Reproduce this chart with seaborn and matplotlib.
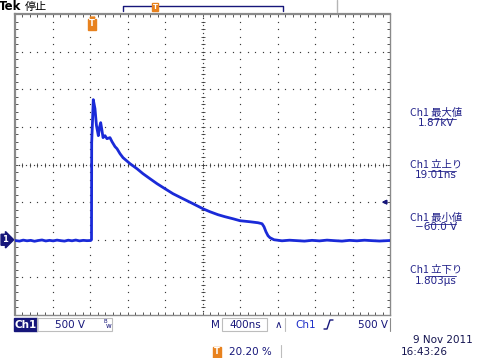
"""Tek oscilloscope screen capture: Ch1 pulse, 500 V/div, 400 ns/div."""

import matplotlib.pyplot as plt
import pandas as pd
import seaborn as sns
from matplotlib.lines import Line2D
from matplotlib.patches import Rectangle

sns.set_theme(style="white")
plt.rcParams["font.family"] = ["DejaVu Sans", "Noto Sans CJK JP"]
JP = ["Noto Sans CJK JP", "DejaVu Sans"]

# ── Data ──────────────────────────────────────────────────────────────────────

# time in µs relative to trigger, Ch1 voltage in V
t_us = [
    -0.808, -0.76, -0.72, -0.68, -0.64, -0.60, -0.56, -0.52, -0.48, -0.44,
    -0.40, -0.36, -0.32, -0.28, -0.24, -0.20, -0.16, -0.12, -0.08, -0.04, 0.0,
    0.008, 0.010, 0.019, 0.027, 0.035, 0.045, 0.061, 0.081, 0.093, 0.106,
    0.120, 0.131, 0.152, 0.173, 0.205, 0.227, 0.259, 0.280, 0.312, 0.344,
    0.419, 0.493, 0.557, 0.632, 0.707, 0.792, 0.877, 0.984, 1.091, 1.197,
    1.272, 1.357, 1.432, 1.517, 1.592, 1.699, 1.784, 1.827, 1.848, 1.869,
    1.891, 1.912, 1.955, 2.04, 2.12, 2.20, 2.28, 2.36, 2.44, 2.52, 2.60,
    2.68, 2.76, 2.84, 2.92, 3.00, 3.08, 3.192,
]
volts = [
    -10, -18, -5, -14, -8, -20, -10, -3, -16, -8,
    -15, -5, -12, -18, -6, -14, -4, -15, -8, -12, -10,
    0, 1290, 1583, 1862, 1809, 1742, 1516, 1383, 1490, 1556,
    1450, 1357, 1383, 1343, 1357, 1303, 1237, 1210, 1144, 1091,
    1011, 944, 878, 811, 745, 678, 612, 545, 479, 412,
    372, 333, 306, 279, 253, 239, 226, 213, 173, 106,
    53, 27, 0, -14, -6, -12, -18, -8, -15, -5, -12,
    -18, -8, -14, -6, -12, -17, -10,
]

readout_labels = ["Ch1 最大値", "Ch1 立上り", "Ch1 最小値", "Ch1 立下り"]
readout_values = ["1.87kV", "19.01ns", "−60.0 V", "1.803µs"]

# scope settings
VOLTS_PER_DIV = 500
SEC_PER_DIV = 0.4   # µs
TRIG_POS = 0.202    # fraction of record
GND_DIV = -2        # ground level, divisions from centre
TRIG_LEVEL = 500    # V

# ── Layout helpers ────────────────────────────────────────────────────────────

W, H = 478, 358
NAVY = "#16167a"
BLUE = "#1a2ad8"
ORANGE = "#e8821e"
GREY = "#8a8a8a"
DOTS = "#3a3a3a"

fig = plt.figure(figsize=(W / 100, H / 100), dpi=100)
fig.patch.set_facecolor("white")


def fx(x):
    return x / W


def fy(y):
    return 1 - y / H


def ftext(x, y, s, **kw):
    kw.setdefault("fontsize", 7.5)
    kw.setdefault("color", NAVY)
    kw.setdefault("ha", "center")
    kw.setdefault("va", "center")
    fig.text(fx(x), fy(y), s, **kw)


def fline(xs, ys, **kw):
    fig.add_artist(Line2D([fx(x) for x in xs], [fy(y) for y in ys],
                          transform=fig.transFigure, **kw))


def frect(x0, y0, x1, y1, **kw):
    fig.add_artist(Rectangle((fx(x0), fy(y1)), fx(x1) - fx(x0), fy(y0) - fy(y1),
                             transform=fig.transFigure, **kw))


def tmarker(x, y, fs=6):
    ftext(x, y, "T", fontsize=fs, color="white", weight="bold",
          bbox=dict(boxstyle="square,pad=0.12", fc=ORANGE, ec=ORANGE))


# ── Graticule ─────────────────────────────────────────────────────────────────

ax = fig.add_axes([fx(15), fy(315), fx(390) - fx(15), fy(14) - fy(315)])
x0 = -TRIG_POS * 10 * SEC_PER_DIV
y0 = (-4 - GND_DIV) * VOLTS_PER_DIV
ax.set_xlim(x0, x0 + 10 * SEC_PER_DIV)
ax.set_ylim(y0, y0 + 8 * VOLTS_PER_DIV)

xdiv = [x0 + k * SEC_PER_DIV for k in range(11)]
ydiv = [y0 + k * VOLTS_PER_DIV for k in range(9)]
xsub = [x0 + k * SEC_PER_DIV / 5 for k in range(51)]
ysub = [y0 + k * VOLTS_PER_DIV / 5 for k in range(41)]
xfine = [x0 + k * SEC_PER_DIV / 10 for k in range(101)]
yfine = [y0 + k * VOLTS_PER_DIV / 10 for k in range(81)]

dot = dict(linestyle="none", marker="s", markersize=0.85, markeredgewidth=0,
           color=DOTS, zorder=1)
tick = dict(linestyle="none", markersize=3.5, markeredgewidth=0.6,
            color=DOTS, zorder=1)
for i, xv in enumerate(xdiv[1:-1], start=1):
    if i == 5:
        ax.plot([xv] * len(yfine), yfine, **dot)
        ax.plot([xv] * len(ysub), ysub, marker="_", **tick)
    else:
        ax.plot([xv] * len(ysub), ysub, **dot)
for j, yv in enumerate(ydiv[1:-1], start=1):
    if j == 4:
        ax.plot(xfine, [yv] * len(xfine), **dot)
        ax.plot(xsub, [yv] * len(xsub), marker="|", **tick)
    else:
        ax.plot(xsub, [yv] * len(xsub), **dot)

ax.set_xticks(xsub)
ax.set_yticks(ysub)
ax.tick_params(direction="in", length=2.5, width=0.6, color=DOTS,
               top=True, right=True, bottom=True, left=True,
               labelbottom=False, labelleft=False)
ax.grid(False)
for side, sp in ax.spines.items():
    sp.set_color(GREY)
    sp.set_linewidth(1.6 if side in ("left", "top") else 1.0)

# ── Trace ─────────────────────────────────────────────────────────────────────

df = pd.DataFrame({"t_us": t_us, "volts": volts})
sns.lineplot(data=df, x="t_us", y="volts", ax=ax, sort=False, estimator=None,
             color=BLUE, linewidth=2.0, zorder=3)
ax.set_xlabel("")
ax.set_ylabel("")

# ground marker (left), trigger level arrow (right), trigger position (top)
gy = H - ax.transData.transform((0, 0))[1] * H / fig.bbox.height
ftext(5, gy, "1", fontsize=6, color="white", weight="bold",
      bbox=dict(boxstyle="rarrow,pad=0.12", fc=NAVY, ec=NAVY))
ty = H - ax.transData.transform((0, TRIG_LEVEL))[1] * H / fig.bbox.height
fig.add_artist(plt.annotate(
    "", xy=(fx(379), fy(ty)), xytext=(fx(389), fy(ty)),
    xycoords="figure fraction",
    arrowprops=dict(arrowstyle="-|>", color=NAVY, lw=1.0, mutation_scale=6)))
trig_x = ax.transData.transform((0, 0))[0] * W / fig.bbox.width
tmarker(trig_x + 1, 24)
ax.plot([0.01], [y0 + 8 * VOLTS_PER_DIV - 60], marker="v", markersize=3.5,
        color=ORANGE, clip_on=False, zorder=4)

# ── Header ────────────────────────────────────────────────────────────────────

ftext(-1, 7, "Tek", fontsize=8.5, weight="bold", color="black", ha="left")
ftext(25, 7, "停止", fontsize=8, color="black", ha="left", family=JP)
fline([123, 123, 283, 283], [11, 6, 6, 11], color=NAVY, lw=1.0)
tmarker(155, 7, fs=5)
fline([337, 337], [0, 12], color="#b5b5b5", lw=1.0)

# ── Measurement readouts ──────────────────────────────────────────────────────

label_y = [113, 165, 218, 270]
value_y = [123, 175, 227, 281]
for lab, val, ly, vy in zip(readout_labels, readout_values, label_y, value_y):
    ftext(436, ly, lab, family=JP, fontsize=7.5, color="#22228a")
    ftext(436, vy, val, fontsize=7.5, color="#22228a")
    fline([428, 456], [ly + 5.5, ly + 5.5], color="#22228a", lw=0.6)

# ── Footer ────────────────────────────────────────────────────────────────────

frect(14, 318, 37, 331, fc=NAVY, ec=NAVY)
ftext(25.5, 324.5, "Ch1", color="white", weight="bold")
frect(37, 318, 112, 331, fc="none", ec="#bdbdbd", lw=0.8)
ftext(70, 324.5, "500 V")
ftext(105, 321.5, "B", fontsize=4)
ftext(108.5, 326, "w", fontsize=5)

ftext(215, 324.5, "M")
frect(222, 318, 267, 331, fc="none", ec="#bdbdbd", lw=0.8)
ftext(245, 324.5, "400ns")
ftext(278, 324.5, "∧")
fline([285, 285], [318, 331], color="#bdbdbd", lw=0.8)
ftext(306, 324.5, "Ch1", color="#1e2fc8")
fline([324, 327, 330, 333], [329, 329, 320, 320], color=NAVY, lw=1.0)
ftext(373, 324.5, "500 V")
fline([390, 390], [318, 331], color=GREY, lw=0.8)

tmarker(217, 352)
ftext(250, 352, "20.20 %")
fline([281, 281], [345, 358], color="#bdbdbd", lw=0.8)
ftext(443, 340, "9 Nov 2011", color="#141450")
ftext(424, 352, "16:43:26", color="#141450")

fig.savefig("out.png", dpi=100)
